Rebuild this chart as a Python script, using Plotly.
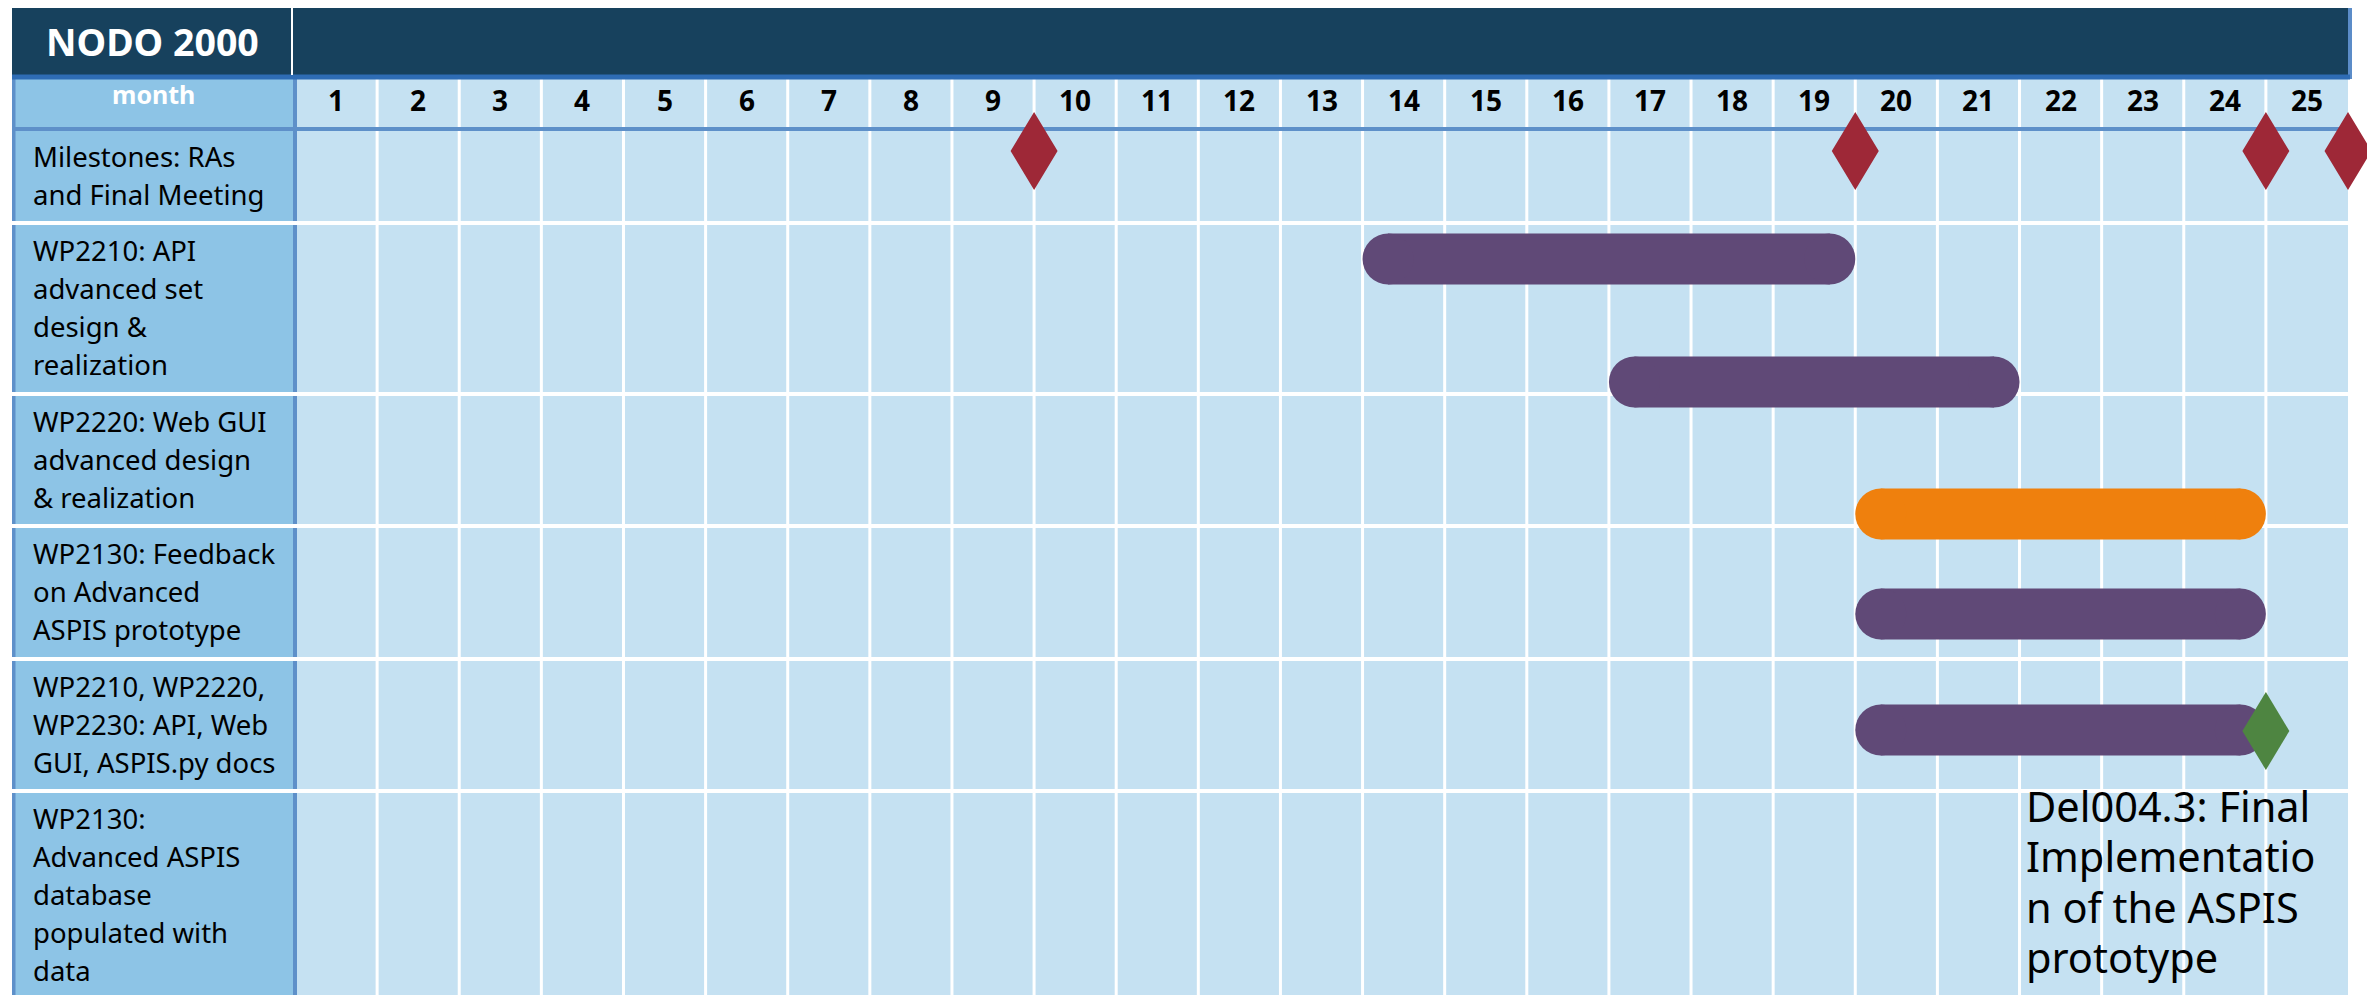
import plotly.graph_objects as go

# ---- data ----
months = list(range(1, 26))
row_labels = [
    ["Milestones: RAs", "and Final Meeting"],
    ["WP2210: API", "advanced set", "design &amp;", "realization"],
    ["WP2220: Web GUI", "advanced design", "&amp; realization"],
    ["WP2130: Feedback", "on Advanced", "ASPIS prototype"],
    ["WP2210, WP2220,", "WP2230: API, Web", "GUI, ASPIS.py docs"],
    ["WP2130:", "Advanced ASPIS", "database", "populated with", "data"],
]
task_start = [13, 16, 19, 19, 19]
task_end = [19, 21, 24, 24, 24]
task_color = ["#604977", "#604977", "#EF800D", "#604977", "#604977"]
milestone_month = [9, 19, 24, 25]
deliverable_month = [24]
deliverable_lines = ["Del004.3: Final", "Implementatio", "n of the ASPIS", "prototype"]

# ---- layout geometry (screen pixels) ----
PAGE = 8           # body margin of the html page
W, H = 2375, 995
LEFT = 12          # outer left edge
GRID_X0 = 295      # pixel of month 0
PPM = 82.12        # pixels per month
HEADER_TOP, HEADER_BOT = 6, 79
MONTH_BOT = 129
row_tops = [129, 223, 394, 526, 659, 791]
bar_y = [259, 382, 514, 614, 730]
milestone_y = 151
deliverable_y = 731
BAR_W = 51
LINE_H = 38
DEL_LINE_H = 50.4

DARK = "#17415D"
EDGE = "#5E90C9"
LABEL_BG = "#8DC4E6"
CELL_BG = "#C5E1F2"
FONT = "Noto Sans"

def mx(p):
    return (p - GRID_X0) / PPM

x_left = mx(LEFT)
x_right = mx(W)
x_grid_end = len(months)

fig = go.Figure()

shapes = []
# cells and label column
shapes.append(dict(type="rect", xref="x", yref="y", x0=0, x1=x_grid_end, y0=HEADER_BOT, y1=H + 20,
                   fillcolor=CELL_BG, line_width=0, layer="below"))
shapes.append(dict(type="rect", xref="x", yref="y", x0=x_left, x1=0, y0=HEADER_BOT, y1=H + 20,
                   fillcolor=LABEL_BG, line_width=0, layer="below"))
# white vertical grid lines
for k in months[:-1]:
    shapes.append(dict(type="line", xref="x", yref="y", x0=k, x1=k, y0=HEADER_BOT, y1=H + 20,
                       line=dict(color="white", width=3), layer="below"))
# blue vertical edges of label column
for xv in [x_left + 1.5 / PPM, 0]:
    shapes.append(dict(type="line", xref="x", yref="y", x0=xv, x1=xv, y0=HEADER_BOT, y1=H + 20,
                       line=dict(color=EDGE, width=4), layer="below"))
# white row separators
for yt in row_tops[1:]:
    shapes.append(dict(type="line", xref="x", yref="y", x0=x_left, x1=x_grid_end, y0=yt, y1=yt,
                       line=dict(color="white", width=4), layer="below"))
# blue line under month row
shapes.append(dict(type="line", xref="x", yref="y", x0=x_left, x1=x_grid_end, y0=MONTH_BOT, y1=MONTH_BOT,
                   line=dict(color=EDGE, width=4), layer="below"))
# header band
shapes.append(dict(type="rect", xref="x", yref="y", x0=mx(10), x1=mx(2350), y0=HEADER_TOP, y1=HEADER_BOT - 2,
                   fillcolor=DARK, line=dict(color="#5B8CC8", width=4), layer="below"))
shapes.append(dict(type="line", xref="x", yref="y", x0=mx(10), x1=mx(2350), y0=HEADER_BOT - 2, y1=HEADER_BOT - 2,
                   line=dict(color="#2E6CB4", width=5), layer="below"))
shapes.append(dict(type="line", xref="x", yref="y", x0=mx(292), x1=mx(292), y0=HEADER_TOP + 2, y1=HEADER_BOT - 4,
                   line=dict(color="white", width=2), layer="below"))

# task bars (pill shapes: thick line + round ends)
r = (BAR_W / 2) / PPM
for s, e, c, yb in zip(task_start, task_end, task_color, bar_y):
    fig.add_trace(go.Scatter(
        x=[s + r, e - r], y=[yb, yb], mode="lines+markers",
        line=dict(color=c, width=BAR_W),
        marker=dict(color=c, size=BAR_W, symbol="circle", line_width=0),
        showlegend=False, hoverinfo="skip"))

# diamonds
def diamond_trace(ms, yc, color, hw_px=23.5, hh_px=39):
    hw = hw_px / PPM
    xs, ys = [], []
    for m in ms:
        xs += [m - hw, m, m + hw, m, m - hw, None]
        ys += [yc, yc - hh_px, yc, yc + hh_px, yc, None]
    return go.Scatter(x=xs, y=ys, mode="lines", fill="toself", fillcolor=color,
                      line=dict(width=0, color=color), showlegend=False, hoverinfo="skip")

fig.add_trace(diamond_trace(milestone_month, milestone_y, "#9E2837"))
fig.add_trace(diamond_trace(deliverable_month, deliverable_y, "#4E8541"))

annotations = []
annotations.append(dict(x=mx(152), y=(HEADER_TOP + HEADER_BOT) / 2 - 1, text="<b>NODO 2000</b>",
                        showarrow=False, font=dict(family=FONT, size=37.5, color="white")))
annotations.append(dict(x=mx(153), y=94, text="<b>month</b>", showarrow=False,
                        font=dict(family=FONT, size=25, color="white")))
for m in months:
    annotations.append(dict(x=m - 0.5, y=100, text=f"<b>{m}</b>", showarrow=False,
                            font=dict(family=FONT, size=28, color="black")))
for lines, yt in zip(row_labels, row_tops):
    for i, ln in enumerate(lines):
        annotations.append(dict(x=mx(31), y=yt + 27 + i * LINE_H, text=ln, showarrow=False,
                                xanchor="left", yanchor="middle", align="left",
                                font=dict(family=FONT, size=27.5, color="black")))
for i, ln in enumerate(deliverable_lines):
    annotations.append(dict(x=mx(2024), y=806 + i * DEL_LINE_H, text=ln, showarrow=False,
                            xanchor="left", yanchor="middle", align="left",
                            font=dict(family=FONT, size=41.5, color="black")))

fig.update_layout(
    width=W - PAGE, height=H - PAGE,
    margin=dict(l=LEFT - PAGE, r=0, t=0, b=0),
    paper_bgcolor="white", plot_bgcolor="white",
    xaxis=dict(range=[x_left, x_right], visible=False, fixedrange=True),
    yaxis=dict(range=[H, PAGE], visible=False, fixedrange=True),
    shapes=shapes, annotations=annotations,
)

fig.write_html("out.html")
